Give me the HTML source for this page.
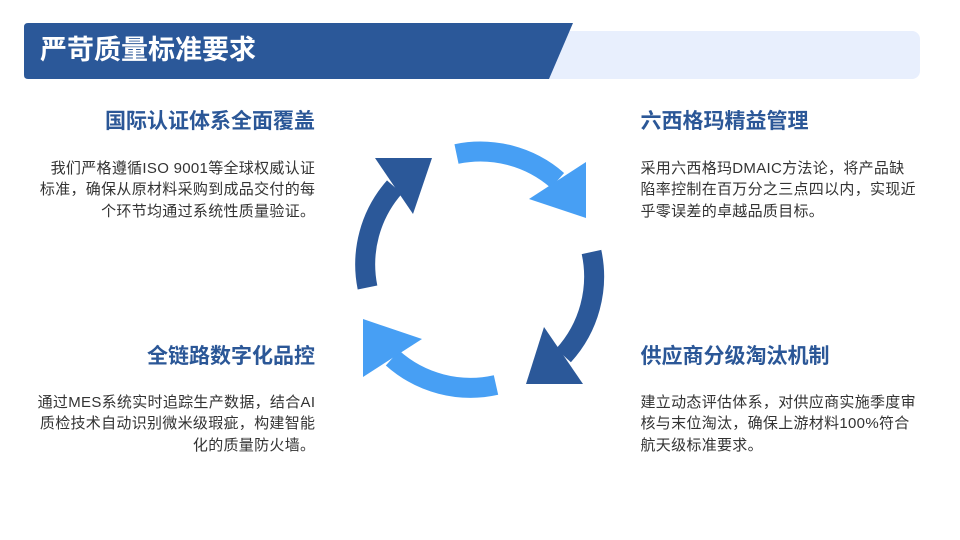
<!DOCTYPE html>
<html lang="zh">
<head>
<meta charset="utf-8">
<style>
  html, body { margin:0; padding:0; }
  body { width:960px; height:540px; overflow:hidden; background:#ffffff; position:relative;
         font-family:"Liberation Sans","Noto Sans CJK SC",sans-serif; }
  svg.bg { position:absolute; left:0; top:0; }
  .title { position:absolute; left:40px; top:33px; font-size:27px; line-height:34px; font-weight:bold; color:#ffffff; white-space:nowrap; }
  .h { position:absolute; font-size:21px; line-height:28px; font-weight:bold; color:#2B5797; white-space:nowrap; }
  .p { position:absolute; font-size:15px; line-height:21.5px; color:#333333; letter-spacing:0.3px; white-space:nowrap; }
  .r { text-align:right; }
</style>
</head>
<body>
<svg class="bg" width="960" height="540" viewBox="0 0 960 540" xmlns="http://www.w3.org/2000/svg">
  <!-- header -->
  <rect x="540" y="31" width="380" height="48" rx="8" ry="8" fill="#E8EFFD"/>
  <path d="M28 23 H573 L549 79 H28 Q24 79 24 75 V27 Q24 23 28 23 Z" fill="#2B5899"/>

  <!-- cycle arrows -->
  <g fill="none" stroke-width="20" stroke-linecap="butt">
    <path d="M367.5 287.5 A117 117 0 0 1 394.5 187" stroke="#2B5899"/>
    <path d="M456.5 154 A117 117 0 0 1 557.5 180.5" stroke="#479FF4"/>
    <path d="M591.5 252 A117 117 0 0 1 563.5 355.5" stroke="#2B5899"/>
    <path d="M496 385 A117 117 0 0 1 392.5 358" stroke="#479FF4"/>
  </g>
  <polygon points="375,158 432,158 413,214" fill="#2B5899"/>
  <polygon points="586,162 586,218 529,199" fill="#479FF4"/>
  <polygon points="526,384 583,384 544,327" fill="#2B5899"/>
  <polygon points="363,319 363,377 422,339" fill="#479FF4"/>
</svg>

<div class="title">严苛质量标准要求</div>

<!-- top-left -->
<div class="h r" style="right:645px; top:107.5px;">国际认证体系全面覆盖</div>
<div class="p r" style="right:644.7px; top:157.5px;">我们严格遵循ISO 9001等全球权威认证<br>标准，确保从原材料采购到成品交付的每<br>个环节均通过系统性质量验证。</div>

<!-- top-right -->
<div class="h" style="left:640.5px; top:107.5px;">六西格玛精益管理</div>
<div class="p" style="left:640.5px; top:157.5px;">采用六西格玛DMAIC方法论，将产品缺<br>陷率控制在百万分之三点四以内，实现近<br>乎零误差的卓越品质目标。</div>

<!-- bottom-left -->
<div class="h r" style="right:645px; top:342.5px;">全链路数字化品控</div>
<div class="p r" style="right:644.7px; top:391.5px;">通过MES系统实时追踪生产数据，结合AI<br>质检技术自动识别微米级瑕疵，构建智能<br>化的质量防火墙。</div>

<!-- bottom-right -->
<div class="h" style="left:640.5px; top:342.5px;">供应商分级淘汰机制</div>
<div class="p" style="left:640.5px; top:391.5px;">建立动态评估体系，对供应商实施季度审<br>核与末位淘汰，确保上游材料100%符合<br>航天级标准要求。</div>
</body>
</html>
